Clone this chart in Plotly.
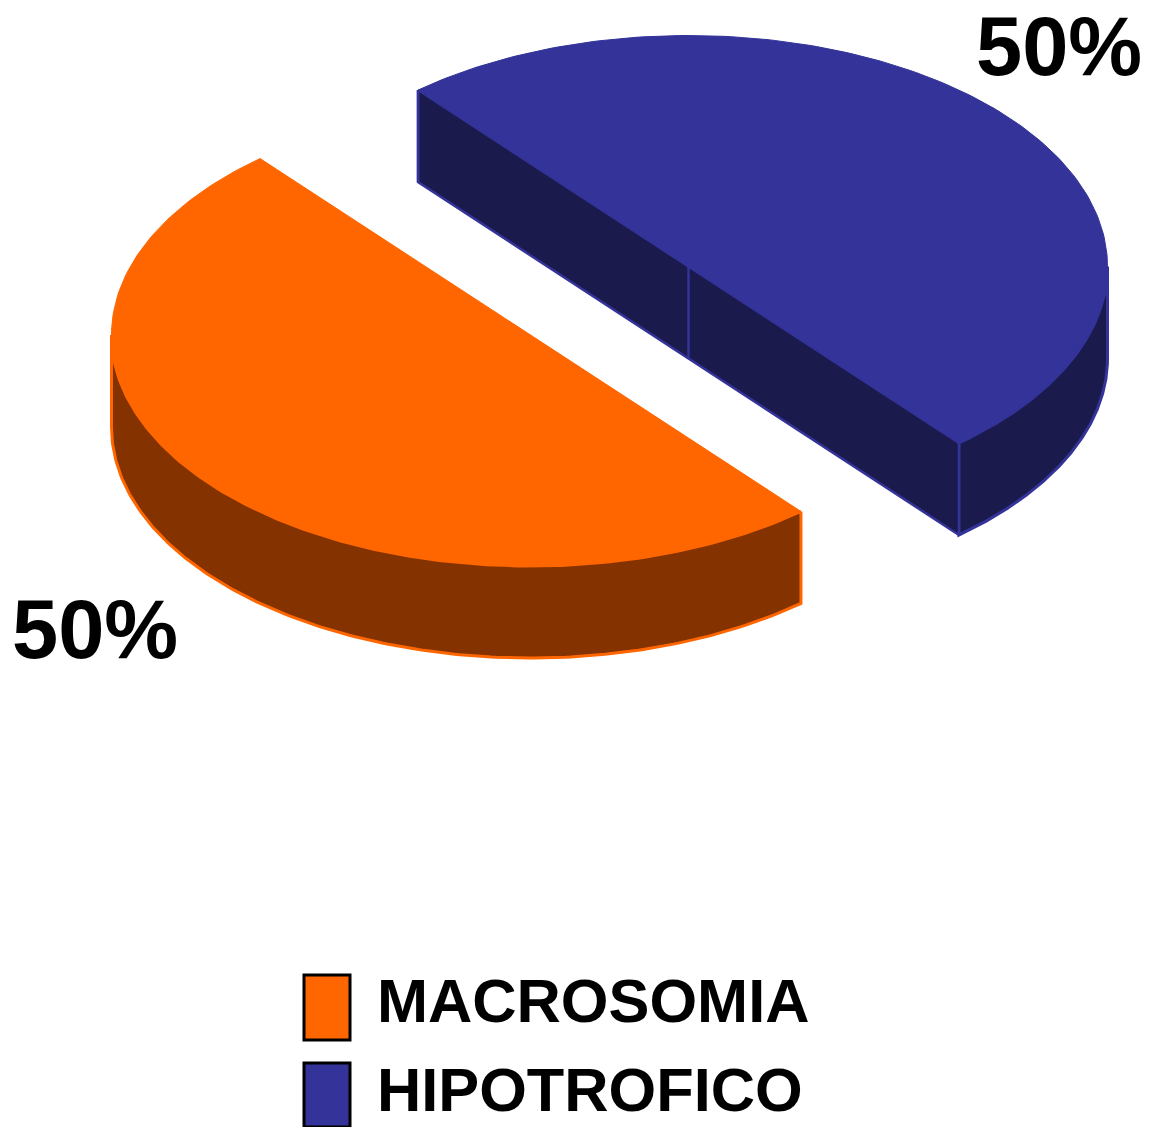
import numpy as np
import plotly.graph_objects as go

categories = ["MACROSOMIA", "HIPOTROFICO"]
values = [50, 50]
percent_labels = ["50%", "50%"]
top_colors = ["#FF6600", "#333399"]
side_colors = ["#833200", "#1A1A4D"]

W, H = 1152, 1127
RX, RY, DEPTH = 419, 231, 92
START_DEG = 49.8
CENTERS = [(530.5, 335), (688.5, 266.5)]


def point(center, deg, drop=0):
    t = np.radians(deg)
    return center[0] + RX * np.cos(t), center[1] + RY * np.sin(t) + drop


def arc(center, a0, a1, drop=0):
    degs = np.linspace(a0, a1, 181)
    return point(center, degs, drop)


def poly(xs, ys, fill, line, width=3):
    return go.Scatter(x=list(xs) + [xs[0]], y=list(ys) + [ys[0]], mode="lines", fill="toself",
                      fillcolor=fill, line=dict(color=line, width=width), hoverinfo="skip",
                      showlegend=False)


total = sum(values)
a0 = START_DEG
spans = []
for v in values:
    spans.append((a0, a0 + 360 * v / total))
    a0 += 360 * v / total

fig = go.Figure()
for i, (c, (s, e)) in enumerate(zip(CENTERS, spans)):
    # Outer rim: only the part facing the viewer (angles 0..180) is visible
    lo, hi = max(s, 0), min(e, 180)
    if lo >= hi:
        s2, e2 = s - 360, e - 360
        lo, hi = max(s2, 0), min(e2, 180)
    x0, y0 = arc(c, lo, hi)
    x1, y1 = arc(c, hi, lo, DEPTH)
    fig.add_trace(poly(np.r_[x0, x1], np.r_[y0, y1], side_colors[i], top_colors[i]))
    if i == 1:
        # Exposed cut face of the far slice, with the centre edge
        ax, ay = point(c, s)
        bx, by = point(c, e)
        fig.add_trace(poly([ax, bx, bx, ax], [ay, by, by + DEPTH, ay + DEPTH],
                           side_colors[i], top_colors[i], 2.5))
        for ex, ey in [(c[0], c[1]), (ax, ay)]:
            fig.add_trace(go.Scatter(x=[ex, ex], y=[ey, ey + DEPTH], mode="lines",
                                     line=dict(color=top_colors[i], width=2.5),
                                     hoverinfo="skip", showlegend=False))
    xt, yt = arc(c, s, e)
    fig.add_trace(poly(xt, yt, top_colors[i], top_colors[i], 1))

shapes = []
annotations = []
LABEL_POS = [(95, 629), (1059, 46)]
for lab, (x, y) in zip(percent_labels, LABEL_POS):
    annotations.append(dict(x=x, y=y, text=f"<b>{lab}</b>", showarrow=False, xanchor="center",
                            yanchor="middle",
                            font=dict(family="Liberation Sans", size=83, color="black")))
ROWS = [(975, 1040, 1001), (1063, 1127, 1090)]
for name, col, (y0, y1, ym) in zip(categories, top_colors, ROWS):
    shapes.append(dict(type="rect", x0=304, x1=350, y0=y0, y1=y1, fillcolor=col,
                       line=dict(color="black", width=3)))
    annotations.append(dict(x=375, y=ym, text=f"<b>{name}</b>", showarrow=False, xanchor="left",
                            yanchor="middle",
                            font=dict(family="Liberation Sans", size=61.3, color="black")))

fig.update_layout(width=W, height=H, margin=dict(l=0, r=0, t=0, b=0), paper_bgcolor="white",
                  plot_bgcolor="white", shapes=shapes, annotations=annotations, showlegend=False,
                  xaxis=dict(range=[0, W], visible=False, fixedrange=True),
                  yaxis=dict(range=[H, 0], visible=False, fixedrange=True))
fig.write_html("out.html", post_script="document.body.style.margin='0';document.documentElement.style.overflow='hidden';",
               config=dict(displayModeBar=False))
